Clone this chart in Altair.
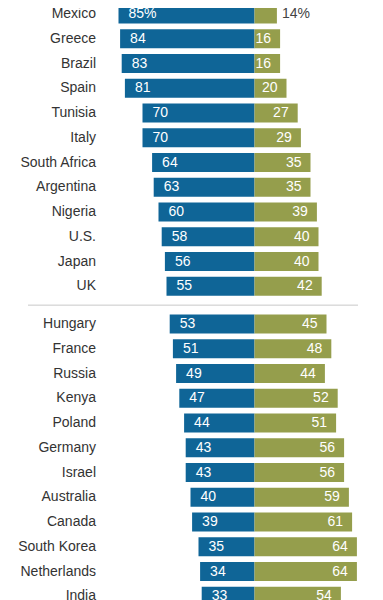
import altair as alt
import pandas as pd

# ---- data ----
countries_top = ["Mexico", "Greece", "Brazil", "Spain", "Tunisia", "Italy",
                 "South Africa", "Argentina", "Nigeria", "U.S.", "Japan", "UK"]
blue_top = [85, 84, 83, 81, 70, 70, 64, 63, 60, 58, 56, 55]
green_top = [14, 16, 16, 20, 27, 29, 35, 35, 39, 40, 40, 42]

countries_bottom = ["Hungary", "France", "Russia", "Kenya", "Poland", "Germany",
                    "Israel", "Australia", "Canada", "South Korea", "Netherlands", "India"]
blue_bottom = [53, 51, 49, 47, 44, 43, 43, 40, 39, 35, 34, 33]
green_bottom = [45, 48, 44, 52, 51, 56, 56, 59, 61, 64, 64, 54]

# ---- layout constants (style only) ----
W, H = 352, 600
ZERO_PX = 246.5      # pixel position of the zero line inside the plot
PX_PER_UNIT = 1.6
ROW = 24.75          # pixel distance between rows
TOP = 6              # pixel centre of first row
GAP = 13 / ROW       # extra space between the two groups, in row units
BAR_H = 19
BLUE = "#0f6597"
GREEN = "#959e4c"
FONT = "Liberation Sans"

countries = countries_top + countries_bottom
blue = blue_top + blue_bottom
green = green_top + green_bottom
n_top = len(countries_top)
pos = [i + (GAP if i >= n_top else 0) for i in range(len(countries))]

df = pd.DataFrame({
    "country": countries,
    "blue": blue,
    "green": green,
    "pos": pos,
    "blue_label": [f"{v}%" if i == 0 else f"{v}" for i, v in enumerate(blue)],
    "green_label": [f"{v}%" if i == 0 else f"{v}" for i, v in enumerate(green)],
})

xscale = alt.Scale(domain=[-ZERO_PX / PX_PER_UNIT, (W - ZERO_PX) / PX_PER_UNIT], nice=False, zero=False)
yscale = alt.Scale(domain=[-TOP / ROW, (H - TOP) / ROW], reverse=True, nice=False, zero=False)
half = BAR_H / 2 / ROW

base = alt.Chart(df).transform_calculate(
    neg="-datum.blue", zero="0", y0=f"datum.pos - {half}", y1=f"datum.pos + {half}"
)

blue_bars = base.mark_rect(color=BLUE).encode(
    x=alt.X("neg:Q", scale=xscale, axis=None),
    x2="zero:Q",
    y=alt.Y("y0:Q", scale=yscale, axis=None),
    y2="y1:Q",
)
green_bars = base.mark_rect(color=GREEN).encode(
    x=alt.X("zero:Q", scale=xscale, axis=None),
    x2="green:Q",
    y=alt.Y("y0:Q", scale=yscale, axis=None),
    y2="y1:Q",
)

blue_text = base.mark_text(align="left", baseline="middle", dx=10, color="white",
                           font=FONT, fontSize=14).encode(
    x=alt.X("neg:Q", scale=xscale, axis=None),
    y=alt.Y("pos:Q", scale=yscale, axis=None),
    text="blue_label:N",
)
green_text_in = base.transform_filter("datum.green >= 15").mark_text(
    align="right", baseline="middle", dx=-9, color="white", font=FONT, fontSize=14
).encode(
    x=alt.X("green:Q", scale=xscale, axis=None),
    y=alt.Y("pos:Q", scale=yscale, axis=None),
    text="green_label:N",
)
green_text_out = base.transform_filter("datum.green < 15").mark_text(
    align="left", baseline="middle", dx=5, color="#444444", font=FONT, fontSize=14
).encode(
    x=alt.X("green:Q", scale=xscale, axis=None),
    y=alt.Y("pos:Q", scale=yscale, axis=None),
    text="green_label:N",
)
country_text = base.mark_text(align="right", baseline="middle", color="#333333",
                              font=FONT, fontSize=14).encode(
    x=alt.value(88),
    y=alt.Y("pos:Q", scale=yscale, axis=None),
    text="country:N",
)

sep_df = pd.DataFrame({"sep": [(n_top - 1 + n_top + GAP) / 2]})
separator = alt.Chart(sep_df).mark_rule(color="#c8c8c8", strokeWidth=1).encode(
    y=alt.Y("sep:Q", scale=yscale, axis=None),
    x=alt.value(20),
    x2=alt.value(350),
)

chart = alt.layer(
    blue_bars, green_bars, separator, blue_text, green_text_in, green_text_out, country_text
).properties(
    width=W, height=H,
    autosize=alt.AutoSizeParams(type="none"),
    padding=0,
).configure_view(strokeWidth=0)

chart.save("out.html", embed_options={"renderer": "svg", "actions": False})
